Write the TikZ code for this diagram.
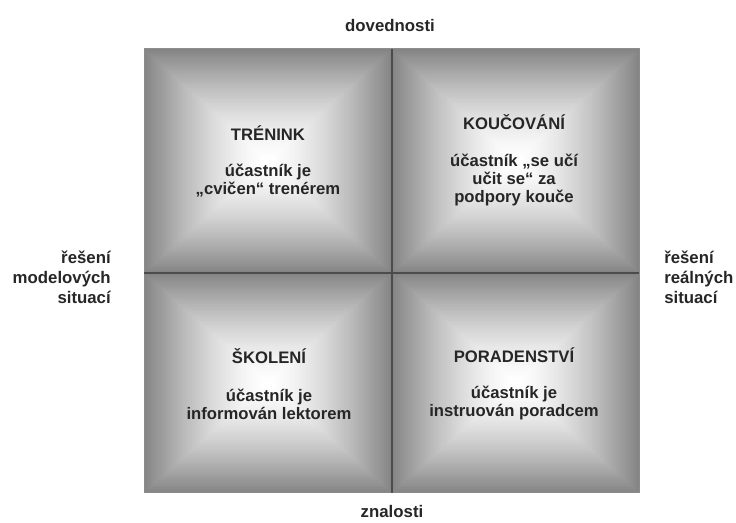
\documentclass[tikz,border=0pt]{standalone}
\usepackage{fontspec}
\setmainfont{Liberation Sans}
\tikzset{
  title/.style={font=\bfseries\fontsize{12.5}{15}\selectfont, text=black!85, inner sep=0pt},
  body/.style={font=\bfseries\fontsize{12.5}{13.6}\selectfont, text=black!85, align=center, inner sep=0pt},
  side/.style={font=\bfseries\fontsize{12.6}{15}\selectfont, text=black!85, inner sep=0pt},
  divider/.style={draw=black!70, line width=0.9}
}
\begin{document}
\begin{tikzpicture}[x=0.75pt,y=0.75pt,yscale=-1,xscale=1]
\useasboundingbox (0,0) rectangle (736,523);

%Shape: pillow shading of the four quadrants
\foreach \xa/\ya/\xb/\yb in {144/49/392/273, 392/49/639/273, 144/273/392/493, 392/273/639/493}{
  \foreach \i in {0,...,59}{
    \pgfmathsetmacro\t{\i/60}
    \pgfmathsetmacro\dk{48*(1-\t)^1.5}
    \pgfmathsetmacro\dx{\t*(\xb-\xa)/2}
    \pgfmathsetmacro\dy{\t*(\yb-\ya)/2}
    \fill[black!\dk] (\xa+\dx,\ya+\dy) rectangle (\xb-\dx,\yb-\dy);
  }
}

%Border and dividers
\coordinate (nw) at (144,49);
\coordinate (se) at (639,493);
\coordinate (top) at (392,49);
\coordinate (bottom) at (392,493);
\coordinate (left) at (144,273);
\coordinate (right) at (639,273);
\draw [black!45, line width=0.75] (nw) rectangle (se);
\draw [divider] (top) -- (bottom);
\draw [divider] (left) -- (right);

%Quadrant titles
\node [title] (trenink) at (268,133) {TRÉNINK};
\node [title] (koucovani) at (514,122) {KOUČOVÁNÍ};
\node [title] (skoleni) at (269,356) {ŠKOLENÍ};
\node [title] (poradenstvi) at (514,355) {PORADENSTVÍ};

%Quadrant texts
\node [body] (trenink text) at (268,181) {účastník je\\„cvičen“ trenérem};
\node [body] (koucovani text) at (514,180) {účastník „se učí\\učit se“ za\\podpory kouče};
\node [body] (skoleni text) at (269,404) {účastník je\\informován lektorem};
\node [body] (poradenstvi text) at (514,403) {účastník je\\instruován poradcem};

%Axis labels
\node [side] (dovednosti) at (390,26) {dovednosti};
\node [side] (znalosti) at (392,511) {znalosti};
\node [side, align=right, anchor=east] (modelove) at (111,277) {řešení\\modelových\\situací};
\node [side, align=left, anchor=west] (realne) at (664,277) {řešení\\reálných\\situací};

\end{tikzpicture}
\end{document}
